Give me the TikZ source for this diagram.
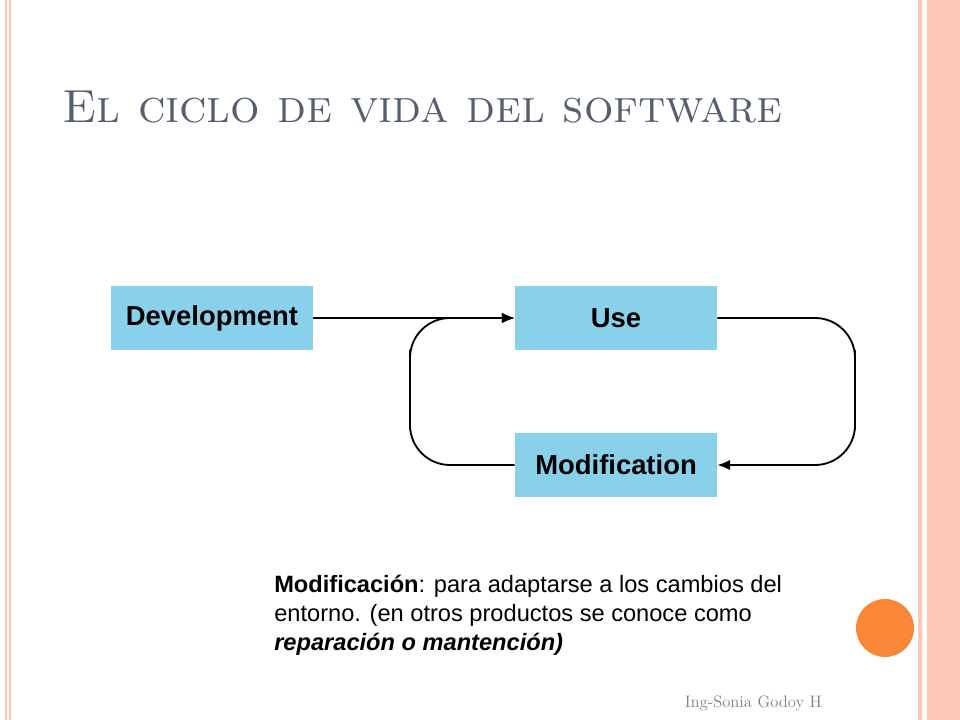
\documentclass[tikz,border=0pt]{standalone}
\usepackage{fontspec}
\setsansfont{Liberation Sans}
\usetikzlibrary{positioning,arrows.meta}
\definecolor{boxblue}{RGB}{137,209,235}
\definecolor{stripe}{RGB}{250,200,180}
\definecolor{titlegray}{RGB}{85,95,110}
\definecolor{dotorange}{RGB}{250,135,55}
\begin{document}
\begin{tikzpicture}[x=0.025cm,y=-0.025cm,
  box/.style={fill=boxblue,minimum width=5.05cm,minimum height=1.62cm,inner sep=0pt,
    font=\sffamily\bfseries\fontsize{19.5}{22}\selectfont},
  flow/.style={line width=1.3pt,-{Latex[length=3.2mm,width=2.6mm]},rounded corners=1cm}]
	\useasboundingbox (0,0) rectangle (960,720);
	% border stripes
	\fill[stripe] (5,0) rectangle (7,720);
	\fill[stripe] (9,0) rectangle (11,720);
	\fill[stripe] (918,0) rectangle (922,720);
	\fill[stripe] (927,0) rectangle (960,720);
	\fill[stripe!80!red!60] (935,0) rectangle (937,720);
	\fill[stripe!80!red!60] (943,0) rectangle (944,720);
	% title
	\node[anchor=base west,text=titlegray,inner sep=0pt,font=\fontsize{33}{40}\selectfont\scshape] (title) at (62,123) {El ciclo de vida del software};
	% diagram
	\node[box] (dev) at (212,318) {Development};
	\node[box] (use) at (616,318) {Use};
	\node[box] (mod) at (616,465) {Modification};
	\coordinate (re) at (855,390);
	\coordinate (le) at (410,390);
	\draw[flow] (dev) -- (use);
	\draw[flow] (use.east) -| (re) |- (mod.east);
	\draw[flow] (mod.west) -| (le) |- (use.west);
	% note
	\node[anchor=north west,align=left,inner sep=0pt,font=\sffamily\fontsize{16.8}{20.5}\selectfont] (note) at (274,575)
	  {\textbf{Modificación}: para adaptarse a los cambios del\\
	   entorno. (en otros productos se conoce como\\
	   \textbf{\textit{reparación o mantención)}}};
	\fill[dotorange] (885,628) circle (29);
	\node[anchor=base east,inner sep=0pt,text=gray,font=\fontsize{11.8}{14}\selectfont] (foot) at (822,707) {Ing-Sonia Godoy H};
\end{tikzpicture}
\end{document}
